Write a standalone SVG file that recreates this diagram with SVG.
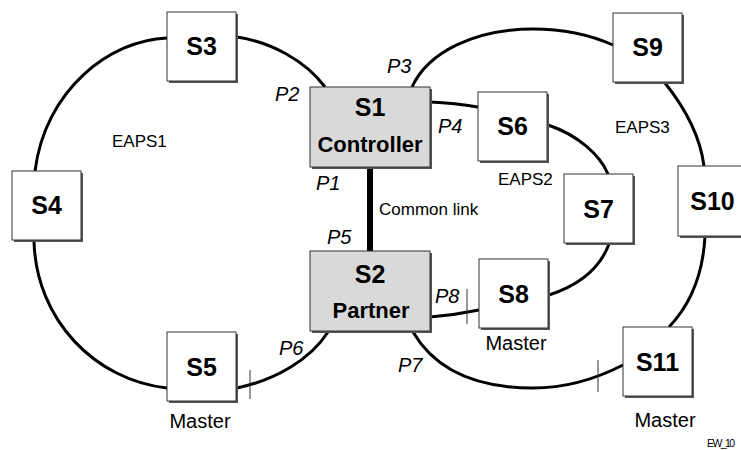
<svg xmlns="http://www.w3.org/2000/svg" width="741" height="450" viewBox="0 0 741 450">
<style>
.ring{fill:none;stroke:#000;stroke-width:3}
.tick{stroke:#333;stroke-width:1}
.sh{fill:#555}
.box{fill:#fff;stroke:#333;stroke-width:1}
.gbox{fill:#d9d9d9;stroke:#333;stroke-width:1}
.nl{font-family:"Liberation Sans",Arial,sans-serif;font-weight:bold;font-size:25px;text-anchor:middle;fill:#000}
.sl{font-family:"Liberation Sans",Arial,sans-serif;font-weight:bold;font-size:22px;text-anchor:middle;fill:#000}
.pl{font-family:"Liberation Sans",Arial,sans-serif;font-style:italic;font-size:20px;fill:#000}
.lab{font-family:"Liberation Sans",Arial,sans-serif;font-size:17px;fill:#000}
.ms{font-family:"Liberation Sans",Arial,sans-serif;font-size:20px;text-anchor:middle;fill:#000}
</style>
<rect width="741" height="450" fill="#fff"/>
<g id="connectors">
<path class="ring" d="M237,37 C270,42 305,60 325,87"/>
<path class="ring" d="M167,38 C110,40 45,90 35,171"/>
<path class="ring" d="M34,241 C36,320 95,380 167,388"/>
<path class="ring" d="M237,388 C275,380 310,360 328,332"/>
<path class="ring" d="M412,87 C428,52 475,29 533,29 C570,29 595,37 613,45"/>
<path class="ring" d="M665,83 C685,108 700,135 704,166"/>
<path class="ring" d="M705,236 C703,275 690,305 669,327"/>
<path class="ring" d="M413,332 C440,378 490,388 533,388 C560,388 590,382 623,365"/>
<path class="ring" d="M430,102 Q455,103 478,107"/>
<path class="ring" d="M548,125 C578,135 600,155 608,174"/>
<path class="ring" d="M609,244 C600,268 580,285 549,295"/>
<path class="ring" d="M430,317 Q455,315 479,310"/>
<line x1="370" y1="167" x2="370" y2="251" stroke="#000" stroke-width="6"/>
<line class="tick" x1="250" y1="370" x2="250" y2="399"/>
<line class="tick" x1="467" y1="289" x2="467" y2="324"/>
<line class="tick" x1="598" y1="360" x2="598" y2="392"/>
</g>
<g id="S1">
<rect class="sh" x="312" y="89" width="120" height="80"/>
<rect class="gbox" x="310" y="87" width="120" height="80"/>
<text class="nl" x="370" y="116">S1</text>
<text class="sl" x="370" y="152">Controller</text>
</g>
<g id="S2">
<rect class="sh" x="312" y="253" width="120" height="80"/>
<rect class="gbox" x="310" y="251" width="120" height="80"/>
<text class="nl" x="370" y="283">S2</text>
<text class="sl" x="371" y="318">Partner</text>
</g>
<g id="S3">
<rect class="sh" x="169" y="14" width="69" height="69"/>
<rect class="box" x="167" y="12" width="69" height="69"/>
<text class="nl" x="201.5" y="55">S3</text>
</g>
<g id="S4">
<rect class="sh" x="14" y="173" width="69" height="69"/>
<rect class="box" x="12" y="171" width="69" height="69"/>
<text class="nl" x="46.5" y="214">S4</text>
</g>
<g id="S5">
<rect class="sh" x="169" y="334" width="69" height="69"/>
<rect class="box" x="167" y="332" width="69" height="69"/>
<text class="nl" x="201.5" y="376">S5</text>
</g>
<g id="S6">
<rect class="sh" x="480" y="94" width="69" height="69"/>
<rect class="box" x="478" y="92" width="69" height="69"/>
<text class="nl" x="512.5" y="135">S6</text>
</g>
<g id="S7">
<rect class="sh" x="566" y="176" width="69" height="69"/>
<rect class="box" x="564" y="174" width="69" height="69"/>
<text class="nl" x="598.5" y="218">S7</text>
</g>
<g id="S8">
<rect class="sh" x="481" y="261" width="69" height="69"/>
<rect class="box" x="479" y="259" width="69" height="69"/>
<text class="nl" x="513.5" y="303">S8</text>
</g>
<g id="S9">
<rect class="sh" x="615" y="15" width="69" height="69"/>
<rect class="box" x="613" y="13" width="69" height="69"/>
<text class="nl" x="647.5" y="56">S9</text>
</g>
<g id="S10">
<rect class="sh" x="680" y="168" width="69" height="70"/>
<rect class="box" x="678" y="166" width="69" height="70"/>
<text class="nl" x="712.5" y="210">S10</text>
</g>
<g id="S11">
<rect class="sh" x="625" y="329" width="69" height="69"/>
<rect class="box" x="623" y="327" width="69" height="69"/>
<text class="nl" x="657.5" y="371">S11</text>
</g>
<g id="labels">
<text class="pl" x="275" y="101">P2</text>
<text class="pl" x="387" y="73">P3</text>
<text class="pl" x="438" y="133">P4</text>
<text class="pl" x="316" y="190">P1</text>
<text class="pl" x="327" y="244">P5</text>
<text class="pl" x="435" y="303">P8</text>
<text class="pl" x="279" y="355">P6</text>
<text class="pl" x="398" y="372">P7</text>
<text class="lab" x="112" y="147">EAPS1</text>
<text class="lab" x="498" y="185">EAPS2</text>
<text class="lab" x="615" y="133">EAPS3</text>
<text class="lab" x="379" y="215" font-size="18">Common link</text>
<text class="ms" x="200" y="428">Master</text>
<text class="ms" x="516" y="350">Master</text>
<text class="ms" x="665" y="427">Master</text>
<text x="707" y="447" font-family="Liberation Sans, Arial, sans-serif" font-size="10.5" textLength="28" fill="#000">EW_10</text>
</g>
</svg>
